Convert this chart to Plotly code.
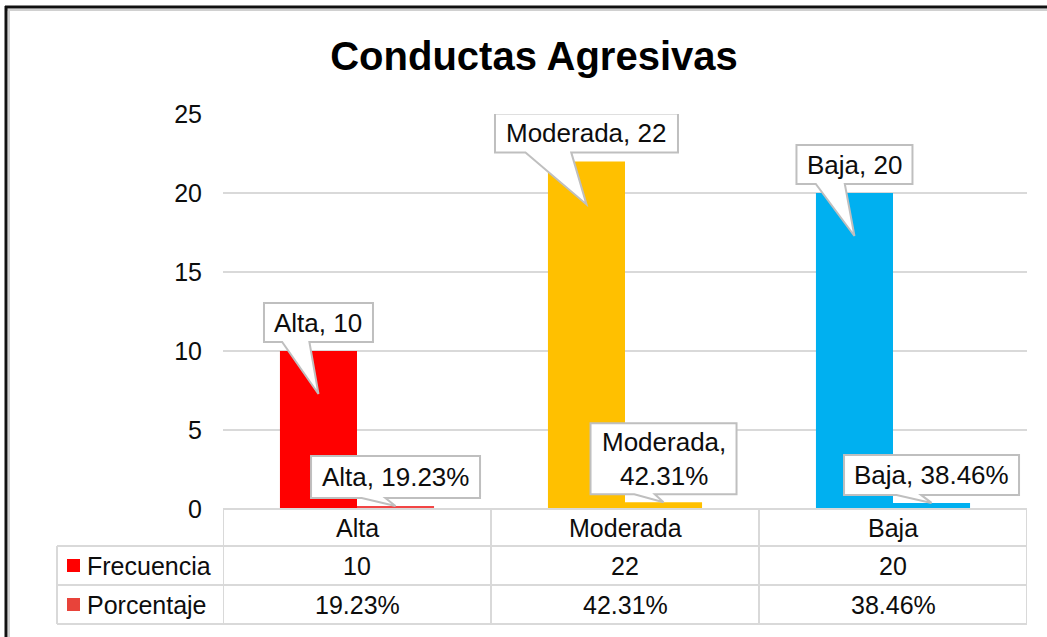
import plotly.graph_objects as go

# ---------------- data ----------------
categories = ["Alta", "Moderada", "Baja"]
frecuencia = [10, 22, 20]
porcentaje = [19.23, 42.31, 38.46]          # percent values
series_names = ["Frecuencia", "Porcentaje"]
y_tick_values = [0, 5, 10, 15, 20, 25]
title_text = "Conductas Agresivas"

# ---------------- style ----------------
freq_colors = ["#FF0000", "#FFC000", "#00B0F0"]
pct_colors = ["#F24545", "#FFC000", "#00B0F0"]
legend_key_colors = ["#FF0000", "#E8433A"]

W, H = 1047, 637
PL, PR, PT, PB = 223, 1027, 114, 509          # plot area in pixels
FONT = "Arial, 'Liberation Sans', sans-serif"
TXT = "#0d0d0d"
GRID = "#d9d9d9"
TBL = "#d9d9d9"
LBL_SIZE = 25
CALLOUT_SIZE = 26
BARGAP = 0.425


def px(x):
    return (x - PL) / (PR - PL)


def py(y):
    return (PB - y) / (PB - PT)


x_idx = list(range(len(categories)))
pct_frac = [p / 100 for p in porcentaje]
bar_w = (1 - BARGAP) / 2
freq_x = [i - bar_w / 2 for i in x_idx]
pct_x = [i + bar_w / 2 for i in x_idx]

fig = go.Figure()
fig.add_trace(go.Bar(x=x_idx, y=frecuencia, name=series_names[0],
                     marker=dict(color=freq_colors, line_width=0), hoverinfo="skip"))
fig.add_trace(go.Bar(x=x_idx, y=pct_frac, name=series_names[1],
                     marker=dict(color=pct_colors, line_width=0), hoverinfo="skip"))

shapes = []
annotations = []

# ---------------- callouts ----------------
def callout(xc, yv, text, width, top, bottom, tip, wedge):
    L, R = -width / 2, width / 2
    bl, br = wedge
    path = (f"M{L},{top} L{R},{top} L{R},{bottom} L{br},{bottom} "
            f"L0,{tip} L{bl},{bottom} L{L},{bottom} Z")
    shapes.append(dict(type="path", xref="x", yref="y", xsizemode="pixel",
                       ysizemode="pixel", xanchor=xc, yanchor=yv, path=path,
                       fillcolor="white", line=dict(color="#bfbfbf", width=2),
                       layer="above"))
    annotations.append(dict(x=xc, y=yv, xref="x", yref="y", text=text,
                            showarrow=False, yshift=(top + bottom) / 2,
                            xanchor="center", yanchor="middle",
                            font=dict(family=FONT, size=CALLOUT_SIZE, color=TXT)))


freq_widths = [109, 183, 116]
for i, c in enumerate(categories):
    w = freq_widths[i]
    callout(freq_x[i], frecuencia[i], f"{c}, {frecuencia[i]}", w, 48, 9, -43,
            (-w / 2 + w / 6, -w / 2 + 5 * w / 12))

pct_widths = [169, 146, 175]
pct_tops = [50, 79, 48]
for i, c in enumerate(categories):
    w = pct_widths[i]
    t = f"{c}, {porcentaje[i]:.2f}%" if pct_tops[i] < 60 else f"{c},<br>{porcentaje[i]:.2f}%"
    callout(pct_x[i], pct_frac[i], t, w, pct_tops[i], 8, 0,
            (-0.2 * w, -0.06 * w))

# ---------------- data table ----------------
row_y = [509, 546, 585, 624]
line = dict(color=TBL, width=2)
shapes.append(dict(type="line", xref="paper", yref="paper", x0=0, x1=1,
                   y0=py(row_y[0]), y1=py(row_y[0]), line=line, layer="above"))
for ry in row_y[1:]:
    shapes.append(dict(type="line", xref="paper", yref="paper", x0=px(57), x1=1,
                       y0=py(ry), y1=py(ry), line=line, layer="above"))
for xb in [-0.5 + k for k in range(len(categories) + 1)]:
    shapes.append(dict(type="line", xref="x", yref="paper", x0=xb, x1=xb,
                       y0=py(row_y[0]), y1=py(row_y[3]), line=line, layer="above"))
shapes.append(dict(type="line", xref="paper", yref="paper", x0=px(57), x1=px(57),
                   y0=py(row_y[1]), y1=py(row_y[3]), line=line, layer="above"))

row_centers = [(row_y[k] + row_y[k + 1]) / 2 for k in range(3)]
for i, c in enumerate(categories):
    for r, txt in enumerate([c, str(frecuencia[i]), f"{porcentaje[i]:.2f}%"]):
        annotations.append(dict(x=i, y=py(row_centers[r]), xref="x", yref="paper",
                                text=txt, showarrow=False,
                                xanchor="center", yanchor="middle",
                                font=dict(family=FONT, size=LBL_SIZE, color=TXT)))
for r, name in enumerate(series_names):
    yc = row_centers[r + 1]
    shapes.append(dict(type="rect", xref="paper", yref="paper",
                       x0=px(67), x1=px(80), y0=py(yc - 6.5), y1=py(yc + 6.5),
                       fillcolor=legend_key_colors[r], line_width=0, layer="above"))
    annotations.append(dict(x=px(85), y=py(yc), xref="paper", yref="paper",
                            text=name, showarrow=False, xanchor="left",
                            yanchor="middle",
                            font=dict(family=FONT, size=LBL_SIZE, color=TXT)))

# ---------------- outer frame ----------------
shapes.append(dict(type="line", xref="paper", yref="paper", x0=px(6), x1=px(W + 5),
                   y0=py(10), y1=py(10), line=dict(color="#d0d0d0", width=2)))
shapes.append(dict(type="line", xref="paper", yref="paper", x0=px(9), x1=px(9),
                   y0=py(10), y1=py(H + 5), line=dict(color="#d0d0d0", width=2)))
shapes.append(dict(type="line", xref="paper", yref="paper", x0=px(5), x1=px(W + 5),
                   y0=py(7), y1=py(7), line=dict(color="#111111", width=3)))
shapes.append(dict(type="line", xref="paper", yref="paper", x0=px(6), x1=px(6),
                   y0=py(6), y1=py(H + 5), line=dict(color="#111111", width=3)))

fig.update_layout(
    width=W, height=H,
    margin=dict(l=PL, r=W - PR, t=PT, b=H - PB),
    paper_bgcolor="white", plot_bgcolor="white",
    barmode="group", bargap=BARGAP, bargroupgap=0,
    showlegend=False,
    title=dict(text=f"<b>{title_text}</b>", x=534 / W, xanchor="center",
               y=1 - 56 / H, yanchor="middle", xref="container", yref="container",
               font=dict(family=FONT, size=40, color="#000000")),
    xaxis=dict(range=[-0.5, 2.5], visible=False, fixedrange=True),
    yaxis=dict(range=[0, 25], tickvals=y_tick_values, showgrid=True,
               gridcolor=GRID, gridwidth=2, zeroline=False, showline=False,
               ticks="", ticklabelstandoff=20, fixedrange=True,
               tickfont=dict(family=FONT, size=LBL_SIZE, color=TXT)),
    shapes=shapes, annotations=annotations,
)

fig.write_html("out.html", config={"displayModeBar": False},
               post_script="document.body.style.margin='0';document.body.style.overflow='hidden';")
